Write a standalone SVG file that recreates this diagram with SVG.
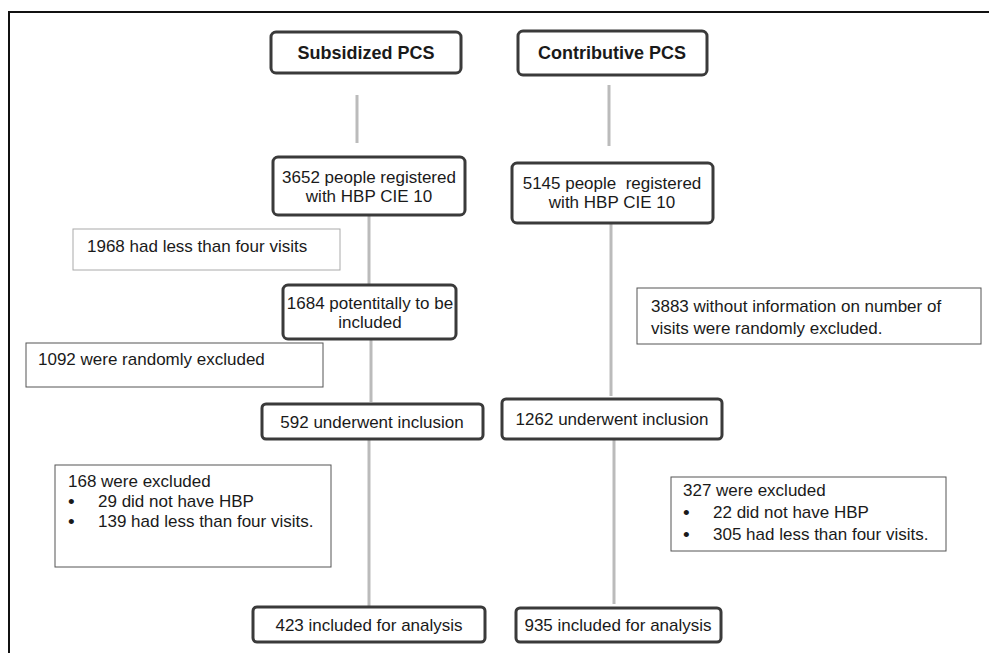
<svg xmlns="http://www.w3.org/2000/svg" width="989" height="653" viewBox="0 0 989 653">
<style>
text{font-family:"Liberation Sans",Arial,sans-serif;font-size:17px;fill:#1a1a1a}
.b{font-weight:bold;font-size:18px}
.m{text-anchor:middle}
.node{fill:#fff;stroke:#3a3a3a;stroke-width:3}
.ex{fill:#fff;stroke:#555;stroke-width:1}
.exl{fill:#fff;stroke:#aaa;stroke-width:1}
.c{stroke:#bbb;stroke-width:3;fill:none}
.bul{font-size:19px}
</style>
<rect x="0" y="0" width="989" height="653" fill="#fff"/>
<rect x="9" y="12" width="1000" height="700" fill="none" stroke="#111" stroke-width="2"/>
<g id="connectors">
<line class="c" x1="357" y1="95" x2="357" y2="143"/>
<line class="c" x1="609" y1="85" x2="609" y2="146"/>
<line class="c" x1="369" y1="216" x2="369" y2="285"/>
<line class="c" x1="371" y1="340" x2="371" y2="402"/>
<line class="c" x1="611" y1="224" x2="611" y2="396"/>
<line class="c" x1="369" y1="440" x2="369" y2="606"/>
<line class="c" x1="614" y1="440" x2="614" y2="604"/>
</g>
<g id="subsidized"><rect class="node" x="271" y="32" width="190" height="41" rx="5"/><text class="b m" x="366" y="59">Subsidized PCS</text></g>
<g id="contributive"><rect class="node" x="518" y="31" width="189" height="44" rx="5"/><text class="b m" x="612" y="59">Contributive PCS</text></g>
<g id="n3652"><rect class="node" x="273" y="157" width="192" height="58" rx="5"/><text class="m" x="369" y="183">3652 people registered</text><text class="m" x="369" y="202">with HBP CIE 10</text></g>
<g id="n5145"><rect class="node" x="512" y="163" width="201" height="60" rx="5"/><text class="m" x="612" y="189">5145 people&#160; registered</text><text class="m" x="612" y="208">with HBP CIE 10</text></g>
<g id="n1968"><rect class="exl" x="73" y="229" width="267" height="41"/><text x="87" y="252">1968 had less than four visits</text></g>
<g id="n1684"><rect class="node" x="283" y="285" width="173" height="54" rx="5"/><text class="m" x="370" y="309">1684 potentitally to be</text><text class="m" x="370" y="328">included</text></g>
<g id="n3883"><rect class="ex" x="637" y="288" width="344" height="56"/><text x="651" y="312">3883 without information on number of</text><text x="651" y="334">visits were randomly excluded.</text></g>
<g id="n1092"><rect class="ex" x="26" y="343" width="297" height="44"/><text x="38" y="365">1092 were randomly excluded</text></g>
<g id="n592"><rect class="node" x="262" y="404" width="221" height="35" rx="4"/><text class="m" x="372" y="428">592 underwent inclusion</text></g>
<g id="n1262"><rect class="node" x="502" y="399" width="220" height="40" rx="4"/><text class="m" x="612" y="425">1262 underwent inclusion</text></g>
<g id="n168"><rect class="ex" x="55" y="465" width="276" height="102"/><text x="68" y="487">168 were excluded</text><text class="bul" x="68" y="508">•</text><text x="98" y="507">29 did not have HBP</text><text class="bul" x="68" y="528">•</text><text x="98" y="527">139 had less than four visits.</text></g>
<g id="n327"><rect class="ex" x="671" y="477" width="275" height="74"/><text x="683" y="496">327 were excluded</text><text class="bul" x="683" y="519">•</text><text x="713" y="518">22 did not have HBP</text><text class="bul" x="683" y="541">•</text><text x="713" y="540">305 had less than four visits.</text></g>
<g id="n423"><rect class="node" x="253" y="607" width="232" height="35" rx="4"/><text class="m" x="369" y="631">423 included for analysis</text></g>
<g id="n935"><rect class="node" x="516" y="608" width="205" height="34" rx="4"/><text class="m" x="618" y="631">935 included for analysis</text></g>
</svg>
